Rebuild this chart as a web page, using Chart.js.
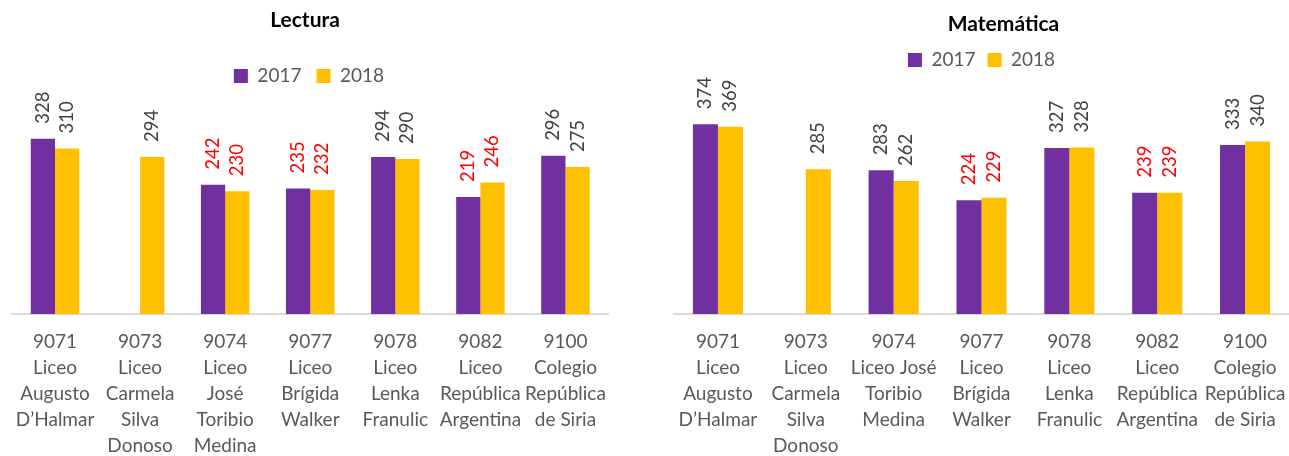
<!DOCTYPE html>
<html>
<head>
<meta charset="utf-8">
<script src="https://cdn.jsdelivr.net/npm/chart.js@4/dist/chart.umd.min.js"></script>
<style>
  body { margin: 0; background: #fff; width: 1289px; height: 456px; overflow: hidden; position: relative; }
  .box { position: absolute; top: 0; height: 474px; }
  #left-box { left: 0; width: 626px; }
  #right-box { left: 655px; width: 664px; }
</style>
</head>
<body>
<div class="box" id="left-box"><canvas id="lectura"></canvas></div>
<div class="box" id="right-box"><canvas id="matematica"></canvas></div>
<script>
const years = ['2017', '2018'];

const lecturaSchools = [
    ['9071', 'Liceo', 'Augusto', 'D’Halmar'],
    ['9073', 'Liceo', 'Carmela', 'Silva', 'Donoso'],
    ['9074', 'Liceo', 'José', 'Toribio', 'Medina'],
    ['9077', 'Liceo', 'Brígida', 'Walker'],
    ['9078', 'Liceo', 'Lenka', 'Franulic'],
    ['9082', 'Liceo', 'República', 'Argentina'],
    ['9100', 'Colegio', 'República', 'de Siria']
];
const matematicaSchools = [
    ['9071', 'Liceo', 'Augusto', 'D’Halmar'],
    ['9073', 'Liceo', 'Carmela', 'Silva', 'Donoso'],
    ['9074', 'Liceo José', 'Toribio', 'Medina'],
    ['9077', 'Liceo', 'Brígida', 'Walker'],
    ['9078', 'Liceo', 'Lenka', 'Franulic'],
    ['9082', 'Liceo', 'República', 'Argentina'],
    ['9100', 'Colegio', 'República', 'de Siria']
];

const lectura2017 = [328, null, 242, 235, 294, 219, 296];
const lectura2018 = [310, 294, 230, 232, 290, 246, 275];
const matematica2017 = [374, null, 283, 224, 327, 239, 333];
const matematica2018 = [369, 285, 262, 229, 328, 239, 340];

// values under this are written in red
const redLimit = 250;

const purple = '#7030A0';
const gold = '#FFC000';
const fontFamily = 'Lato, "Open Sans", sans-serif';

// rotated value labels above each bar
const valueLabels = {
    id: 'valueLabels',
    afterDatasetsDraw(chart) {
        const ctx = chart.ctx;
        ctx.save();
        ctx.font = '18.5px ' + fontFamily;
        ctx.textAlign = 'left';
        ctx.textBaseline = 'middle';
        chart.data.datasets.forEach((ds, i) => {
            chart.getDatasetMeta(i).data.forEach((bar, j) => {
                const v = ds.data[j];
                if (v == null) return;
                ctx.save();
                ctx.translate(bar.x, bar.y - 15);
                ctx.rotate(-Math.PI / 2);
                ctx.fillStyle = v < redLimit ? '#FF0000' : '#404040';
                ctx.fillText(String(v), 0, 0);
                ctx.restore();
            });
        });
        ctx.restore();
    }
};

// nudge the title sideways (it is not centred over the plot in the original)
const titleShift = {
    id: 'titleShift',
    afterLayout(chart, args, opts) {
        if (chart.titleBlock && opts.dx) {
            chart.titleBlock.left += opts.dx;
            chart.titleBlock.right += opts.dx;
        }
    }
};

function makeChart(id, title, labels, data2017, data2018, opts) {
    const ctx = document.getElementById(id).getContext('2d');
    return new Chart(ctx, {
        type: 'bar',
        data: {
            labels: labels,
            datasets: [
                { label: years[0], data: data2017, backgroundColor: purple },
                { label: years[1], data: data2018, backgroundColor: gold }
            ]
        },
        options: {
            responsive: true,
            maintainAspectRatio: false,
            animation: false,
            categoryPercentage: 0.57,
            barPercentage: 1,
            layout: { padding: opts.padding },
            plugins: {
                title: {
                    display: true,
                    text: title,
                    color: '#000',
                    font: { family: fontFamily, size: 21, weight: 'bold', lineHeight: 1.2 },
                    padding: opts.titlePadding
                },
                titleShift: { dx: opts.titleDx },
                legend: {
                    display: true,
                    labels: {
                        color: '#595959',
                        font: { family: fontFamily, size: 19 },
                        boxWidth: 14,
                        boxHeight: 14,
                        padding: opts.legendPadding
                    }
                },
                tooltip: { enabled: false }
            },
            scales: {
                x: {
                    grid: { display: false, drawTicks: false },
                    border: { display: true, color: '#D9D9D9', width: 2 },
                    ticks: {
                        color: '#595959',
                        font: { family: fontFamily, size: 19, lineHeight: '26px' },
                        padding: 15,
                        maxRotation: 0,
                        minRotation: 0,
                        autoSkip: false
                    }
                },
                y: {
                    display: false,
                    min: 0,
                    max: opts.yMax
                }
            }
        },
        plugins: [valueLabels, titleShift]
    });
}

makeChart('lectura', 'Lectura', lecturaSchools, lectura2017, lectura2018, {
    padding: { left: 10, right: 18, top: 0, bottom: 0 },
    titlePadding: { top: 7.4, bottom: 18.8 },
    titleDx: -4,
    legendPadding: 15.1,
    yMax: 409
});

makeChart('matematica', 'Matemática', matematicaSchools, matematica2017, matematica2018, {
    padding: { left: 19, right: 30, top: 0, bottom: 0 },
    titlePadding: { top: 11.4, bottom: 1.9 },
    titleDx: 22,
    legendPadding: 12,
    yMax: 462
});
</script>
</body>
</html>
